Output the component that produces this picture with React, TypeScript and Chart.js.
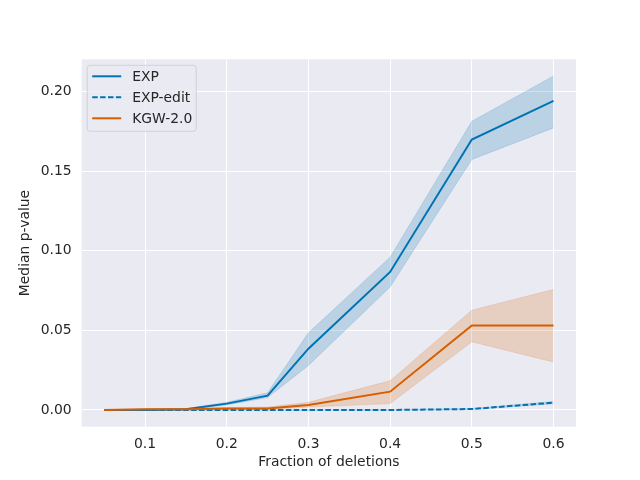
import React, { useEffect, useRef } from "react";
import { Chart, registerables } from "chart.js";

Chart.register(...registerables);

const FRACTIONS = [0.05, 0.1, 0.15, 0.2, 0.25, 0.3, 0.4, 0.5, 0.6];

const EXP = [0, 0, 0.0005, 0.004, 0.009, 0.0385, 0.0867, 0.1699, 0.1942];
const EXP_LO = [0, 0, 0.0002, 0.0032, 0.0078, 0.028, 0.0773, 0.1574, 0.1772];
const EXP_HI = [0, 0.0003, 0.0009, 0.0048, 0.0108, 0.0485, 0.096, 0.1814, 0.2098];

const EDIT = [0, 0, 0, 0, 0, 0, 0, 0.0006, 0.0046];
const EDIT_LO = [0, 0, 0, 0, 0, 0, 0, 0.0003, 0.0039];
const EDIT_HI = [0, 0, 0, 0, 0, 0, 0.0002, 0.0009, 0.0054];

const KGW = [0, 0.0005, 0.0005, 0.001, 0.001, 0.0032, 0.0115, 0.0531, 0.0531];
const KGW_LO = [0, 0.0002, 0.0002, 0.0005, 0.0005, 0.0018, 0.004, 0.0428, 0.0301];
const KGW_HI = [0, 0.0008, 0.0008, 0.0016, 0.0018, 0.0048, 0.0184, 0.0627, 0.0757];

const X_TICKS = [0.1, 0.2, 0.3, 0.4, 0.5, 0.6];
const Y_TICKS = [0, 0.05, 0.1, 0.15, 0.2];

const LEGEND_LABELS = ["EXP", "EXP-edit", "KGW-2.0"];

const BLUE = "#0173b2";
const ORANGE = "#d55e00";
const BLUE_BAND = "rgba(1,115,178,0.2)";
const ORANGE_BAND = "rgba(213,94,0,0.2)";
const TEXT = "#262626";
const FONT = "'DejaVu Sans', sans-serif";

const pts = (ys: number[]) => FRACTIONS.map((x, i) => ({ x, y: ys[i] }));

const bgPlugin = {
  id: "bgPlugin",
  beforeDraw(chart: any) {
    const { ctx, chartArea: a } = chart;
    ctx.save();
    ctx.fillStyle = "#ffffff";
    ctx.fillRect(0, 0, chart.width, chart.height);
    ctx.fillStyle = "#eaeaf2";
    ctx.fillRect(a.left, a.top, a.right - a.left, a.bottom - a.top);
    ctx.restore();
  },
};

const legendPlugin = {
  id: "customLegend",
  afterDraw(chart: any) {
    const { ctx, chartArea: a } = chart;
    const x0 = a.left + 5.5;
    const y0 = a.top + 6;
    const w = 109;
    const h = 66;
    ctx.save();
    ctx.beginPath();
    const r = 3;
    ctx.moveTo(x0 + r, y0);
    ctx.lineTo(x0 + w - r, y0);
    ctx.arcTo(x0 + w, y0, x0 + w, y0 + r, r);
    ctx.lineTo(x0 + w, y0 + h - r);
    ctx.arcTo(x0 + w, y0 + h, x0 + w - r, y0 + h, r);
    ctx.lineTo(x0 + r, y0 + h);
    ctx.arcTo(x0, y0 + h, x0, y0 + h - r, r);
    ctx.lineTo(x0, y0 + r);
    ctx.arcTo(x0, y0, x0 + r, y0, r);
    ctx.closePath();
    ctx.fillStyle = "rgba(234,234,242,0.8)";
    ctx.fill();
    ctx.strokeStyle = "rgba(204,204,204,0.8)";
    ctx.lineWidth = 1;
    ctx.stroke();
    const colors = [BLUE, BLUE, ORANGE];
    const dashes = [[], [5.5, 2.4], []];
    ctx.font = `13.9px ${FONT}`;
    ctx.textBaseline = "middle";
    ctx.textAlign = "left";
    LEGEND_LABELS.forEach((lab, i) => {
      const yy = y0 + 11 + i * 21;
      ctx.beginPath();
      ctx.setLineDash(dashes[i]);
      ctx.strokeStyle = colors[i];
      ctx.lineWidth = 2;
      ctx.moveTo(x0 + 5, yy);
      ctx.lineTo(x0 + 34, yy);
      ctx.stroke();
      ctx.setLineDash([]);
      ctx.fillStyle = TEXT;
      ctx.fillText(lab, x0 + 45, yy + 1);
    });
    ctx.restore();
  },
};

export default function App() {
  const ref = useRef<HTMLCanvasElement | null>(null);
  useEffect(() => {
    if (!ref.current) return;
    const band = (hi: number[], lo: number[], color: string, order: number) => [
      {
        data: pts(hi),
        borderColor: color,
        borderWidth: 0.8,
        backgroundColor: color,
        pointRadius: 0,
        fill: "+1",
        order,
      },
      {
        data: pts(lo),
        borderColor: color,
        borderWidth: 0.8,
        backgroundColor: color,
        pointRadius: 0,
        fill: false,
        order,
      },
    ];
    const chart = new Chart(ref.current, {
      type: "line",
      data: {
        datasets: [
          ...band(EXP_HI, EXP_LO, BLUE_BAND, 6),
          { data: pts(EXP), borderColor: BLUE, borderWidth: 2, pointRadius: 0, fill: false, order: 5 },
          ...band(EDIT_HI, EDIT_LO, BLUE_BAND, 4),
          { data: pts(EDIT), borderColor: BLUE, borderWidth: 2, borderDash: [5.5, 2.4], pointRadius: 0, fill: false, order: 3 },
          ...band(KGW_HI, KGW_LO, ORANGE_BAND, 2),
          { data: pts(KGW), borderColor: ORANGE, borderWidth: 2, pointRadius: 0, fill: false, order: 1 },
        ] as any,
      },
      options: {
        animation: false,
        responsive: true,
        maintainAspectRatio: false,
        layout: { padding: { top: 59.3, right: 64, left: 0, bottom: 0 } },
        plugins: { legend: { display: false }, tooltip: { enabled: false } },
        scales: {
          x: {
            type: "linear",
            min: 0.0225,
            max: 0.6275,
            border: { display: false },
            grid: { color: "#ffffff", lineWidth: 1, drawTicks: false },
            ticks: {
              color: TEXT,
              font: { family: FONT, size: 13.9 },
              padding: 9,
              callback: (v: any) => Number(v).toFixed(1),
            },
            afterBuildTicks: (s: any) => {
              s.ticks = X_TICKS.map((v) => ({ value: v }));
            },
            afterFit: (s: any) => {
              s.height = 53.3;
            },
            title: {
              display: true,
              text: "Fraction of deletions",
              color: TEXT,
              font: { family: FONT, size: 13.9 },
              padding: { top: 0, bottom: 9.5 },
            },
          },
          y: {
            type: "linear",
            min: -0.0105,
            max: 0.2203,
            border: { display: false },
            grid: { color: "#ffffff", lineWidth: 1, drawTicks: false },
            ticks: {
              color: TEXT,
              font: { family: FONT, size: 13.9 },
              padding: 10,
              callback: (v: any) => Number(v).toFixed(2),
            },
            afterBuildTicks: (s: any) => {
              s.ticks = Y_TICKS.map((v) => ({ value: v }));
            },
            afterFit: (s: any) => {
              s.width = 81.7;
            },
            title: {
              display: true,
              text: "Median p-value",
              color: TEXT,
              font: { family: FONT, size: 13.9 },
              padding: { top: 17.5, bottom: 0 },
            },
          },
        },
      } as any,
      plugins: [bgPlugin, legendPlugin],
    });
    return () => chart.destroy();
  }, []);
  return (
    <div style={{ position: "fixed", left: 0, top: 0, width: 640, height: 480 }}>
      <canvas ref={ref} />
    </div>
  );
}
